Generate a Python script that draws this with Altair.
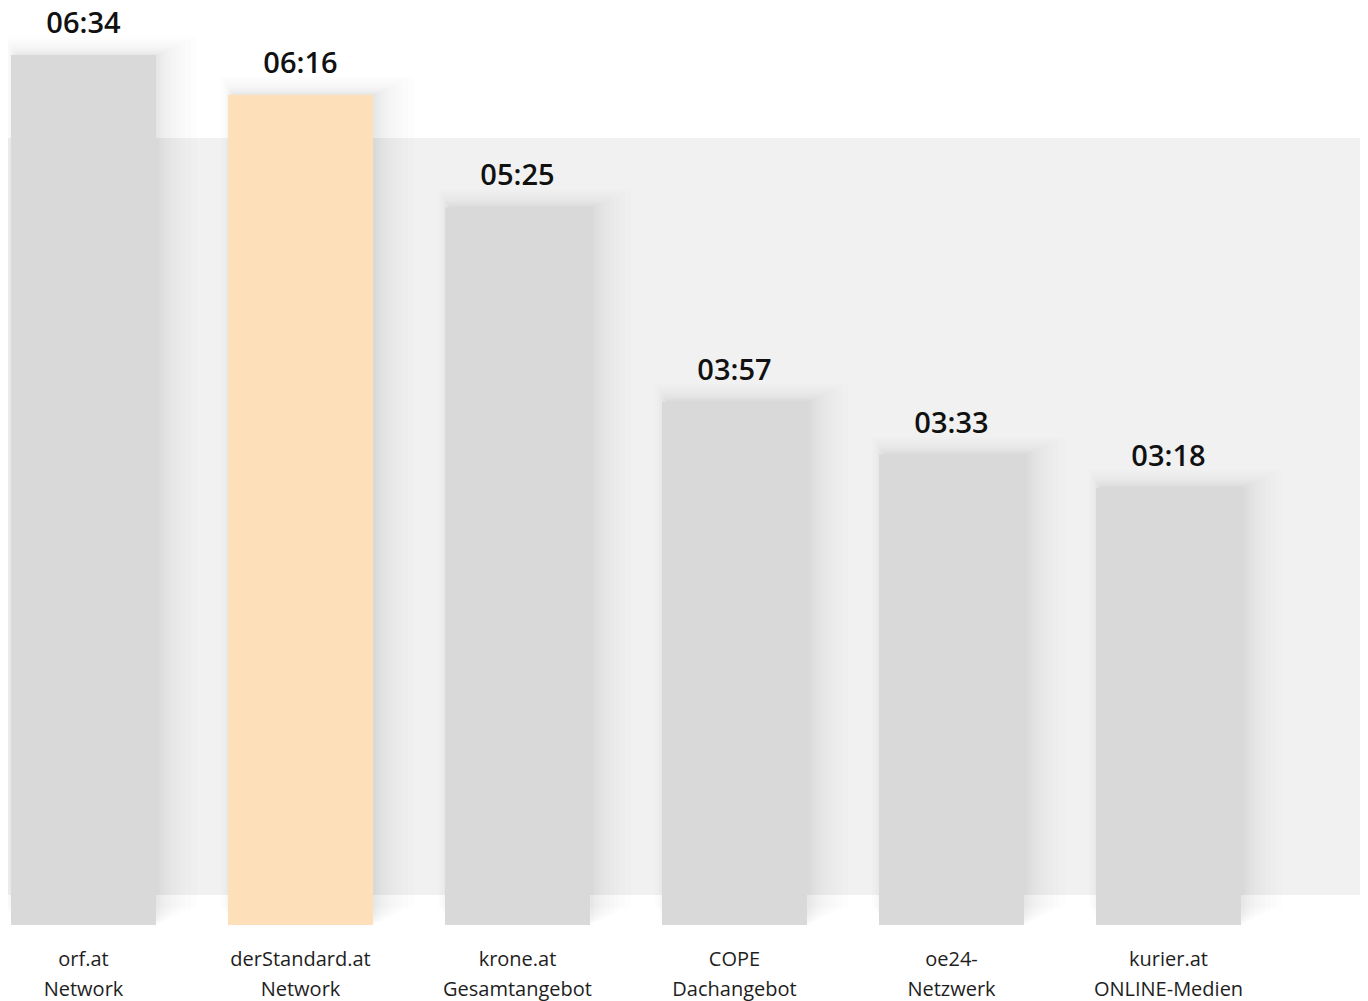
import altair as alt
import pandas as pd

# ---- data ----
categories = [
    "orf.at\nNetwork",
    "derStandard.at\nNetwork",
    "krone.at\nGesamtangebot",
    "COPE\nDachangebot",
    "oe24-\nNetzwerk",
    "kurier.at\nONLINE-Medien",
]
seconds = [394, 376, 325, 237, 213, 198]  # average visit duration in seconds
highlight_name = "derStandard.at\nNetwork"

df = pd.DataFrame({
    "name": categories,
    "sec": seconds,
    "label": [f"{s // 60:02d}:{s % 60:02d}" for s in seconds],
    "highlight": [c == highlight_name for c in categories],
})

W, H = 1352, 917
BAR_W = 145
GRAY = "#d9d9d9"
ORANGE = "#fde0ba"
BAND = "#f1f1f1"

xscale = alt.Scale(paddingInner=0.3318, paddingOuter=0.2811, align=0.0246)
yscale = alt.Scale(domain=[0, 415.3], nice=False, zero=True)

x_enc = alt.X(
    "name:N", sort=None, scale=xscale, title=None,
    axis=alt.Axis(
        domain=False, ticks=False, grid=False, labelAngle=0,
        labelExpr="split(datum.label, '\\n')",
        labelFont="Open Sans", labelFontSize=20, labelColor="#1e1e1e",
        labelPadding=24, labelLineHeight=30, labelBaseline="top",
    ),
)
y_enc = alt.Y("sec:Q", scale=yscale, axis=None)

band = alt.Chart(pd.DataFrame({"d": [0]})).mark_rect(color=BAND).encode(
    x=alt.value(0), x2=alt.value(W), y=alt.value(130), y2=alt.value(887)
)

# soft drop shadow built from stacked translucent rectangles
spreads = [2, 3, 5, 7, 9, 12, 15, 19, 23, 28, 34, 40]
shadows = []
for s in spreads:
    extL = 0.3 * s - 5
    extR = 1 + s
    shadows.append(
        alt.Chart(df).mark_bar(
            color="black", opacity=0.0085,
            width=BAR_W + extL + extR,
            xOffset=(extR - extL) / 2,
            yOffset=-0.45 * s,
            y2Offset=-3 + 0.15 * s,
        ).encode(x=x_enc, y=y_enc)
    )

bars = alt.Chart(df).mark_bar(width=BAR_W).encode(
    x=x_enc, y=y_enc,
    color=alt.condition("datum.highlight", alt.value(ORANGE), alt.value(GRAY)),
)

values = alt.Chart(df).mark_text(
    font="Open Sans", fontSize=29, fontWeight=600, color="#111111",
    baseline="alphabetic", dy=-22,
).encode(x=x_enc, y=y_enc, text="label:N")

chart = alt.layer(band, *shadows, bars, values).properties(
    width=W, height=H,
    background="white",
    autosize=alt.AutoSizeParams(type="none"),
    padding={"left": 0, "top": 0, "right": 0, "bottom": 90},
).configure_view(strokeWidth=0, stroke=None)

chart.save("out.html", embed_options={"renderer": "svg", "actions": False})
